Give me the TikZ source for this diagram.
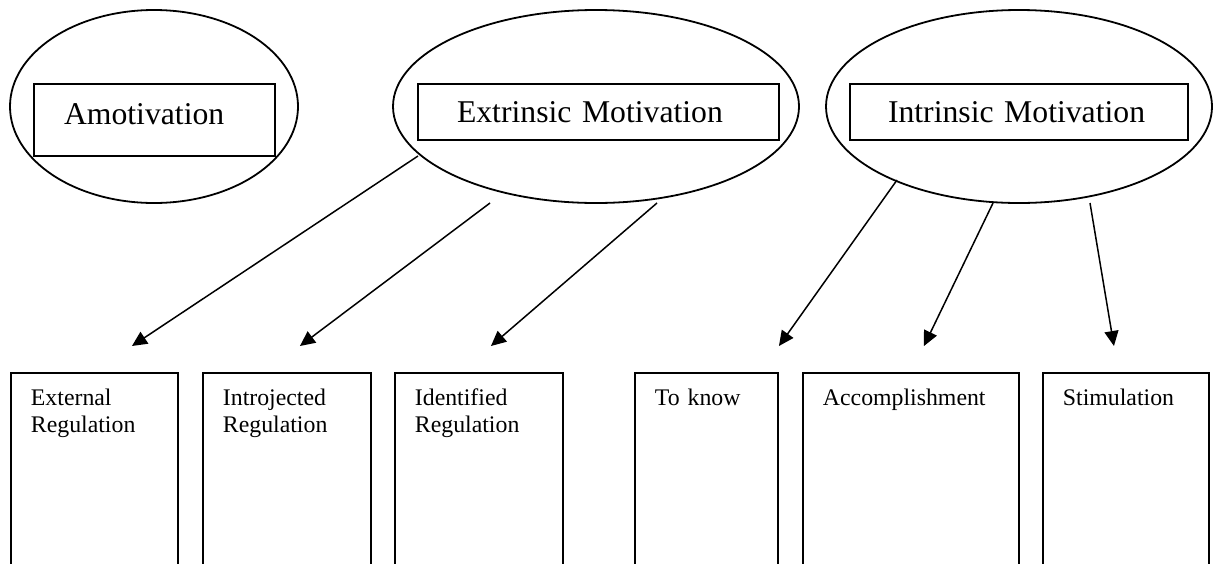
\documentclass[tikz,border=0pt]{standalone}
\usepackage{fontspec}
\setmainfont{Liberation Serif}
\usetikzlibrary{shapes.geometric,arrows.meta}
\begin{document}
\begin{tikzpicture}[x=1pt,y=-1pt,
  oval/.style={draw, ellipse, line width=1.8pt, inner sep=0pt},
  head/.style={draw, rectangle, line width=2pt, anchor=north west, align=left,
    inner ysep=0pt, font=\fontsize{31.7}{36}\selectfont},
  sub/.style={draw, rectangle, line width=1.9pt, anchor=north west, align=left,
    inner xsep=20pt, inner ysep=16pt, text depth=190pt,
    font=\fontsize{23.8}{27}\selectfont},
  arr/.style={line width=1.5pt, -{Triangle[length=15pt,width=14pt]}}]
\clip (0,0) rectangle (1217,563);
% ellipses
\node[oval, minimum width=288pt, minimum height=193pt] (amo) at (154,106.5) {};
\node[oval, minimum width=406pt, minimum height=193pt] (ext) at (596,106.5) {};
\node[oval, minimum width=386pt, minimum height=193pt] (int) at (1019,106.5) {};
% title boxes
\node[head, inner xsep=30pt, text width=181pt, minimum height=72pt] (amob) at (33,83)
  {\raisebox{5.5pt}[\height][\depth]{Amotivation}};
\node[head, inner xsep=39pt, text width=283pt, minimum height=56pt] (extb) at (417,83)
  {Extrinsic Motivation};
\node[head, inner xsep=38pt, text width=262pt, minimum height=56pt] (intb) at (849,83)
  {Intrinsic Motivation};
% bottom boxes
\node[sub, text width=127pt] (er) at (10,372) {External\\Regulation};
\node[sub, text width=128pt] (ir) at (202,372) {Introjected\\Regulation};
\node[sub, text width=128pt] (idr) at (394,372) {Identified\\Regulation};
\node[sub, text width=103pt] (tk) at (634,372) {To know};
\node[sub, text width=176pt] (acc) at (802,372) {Accomplishment};
\node[sub, text width=126pt] (st) at (1042,372) {Stimulation};
% arrows
\draw[arr] ([shift={(-178,49.5)}]ext.center) -- ([shift={(37.5,-26)}]er.north);
\draw[arr] ([shift={(-106,96.5)}]ext.center) -- ([shift={(13,-26)}]ir.north);
\draw[arr] ([shift={(61,96.5)}]ext.center) -- ([shift={(12,-26)}]idr.north);
\draw[arr] ([shift={(-122,73.5)}]int.center) -- ([shift={(72.5,-26)}]tk.north);
\draw[arr] ([shift={(-26,96.5)}]int.center) -- ([shift={(13,-26)}]acc.north);
\draw[arr] ([shift={(71,96.5)}]int.center) -- ([shift={(-12,-26)}]st.north);
\end{tikzpicture}
\end{document}
